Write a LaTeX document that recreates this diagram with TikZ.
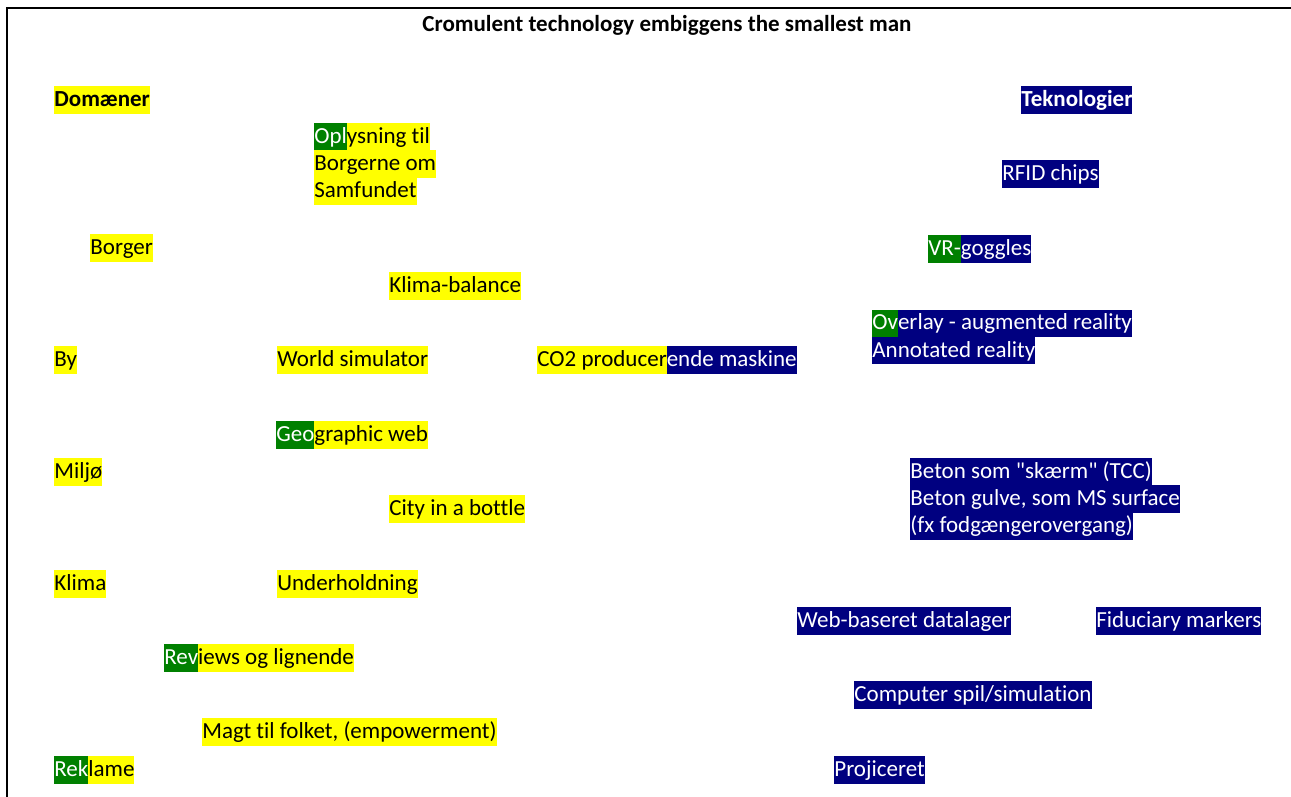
\documentclass[tikz,border=0pt]{standalone}
\usepackage{fontspec}
\setmainfont{Carlito}[Ligatures={TeXOff,NoCommon}]
\usetikzlibrary{positioning}
\definecolor{hl_yellow}{HTML}{FFFF00}
\definecolor{hl_green}{HTML}{008000}
\definecolor{hl_navy}{HTML}{000080}
\setlength{\fboxsep}{0pt}
\newcommand{\hlstrut}{\rule[-3.6pt]{0pt}{13.6pt}}
\newcommand{\yel}[1]{\colorbox{hl_yellow}{\hlstrut\color{black}#1}}
\newcommand{\grn}[1]{\colorbox{hl_green}{\hlstrut\color{white}#1}}
\newcommand{\nav}[1]{\colorbox{hl_navy}{\hlstrut\color{white}#1}}
\tikzset{
  item/.style={anchor=west, inner sep=0pt, align=left, font=\fontsize{11.5}{13.6}\selectfont},
  heading/.style={item, font=\fontsize{11.5}{13.6}\selectfont\bfseries},
  frame/.style={draw=black, line width=1pt},
}

\begin{document}
\begin{tikzpicture}[x=0.5pt, y=-0.5pt]

  \useasboundingbox (0,0) rectangle (1291,797);
  \draw[frame] (7,797) -- (7,8) -- (1291,8);

  \node[anchor=center, inner sep=0pt, font=\fontsize{11.5}{13.6}\selectfont\bfseries] (title) at (667,25)
    {Cromulent technology embiggens the smallest man};

  % --- domaener (left) -----------------------------------------------------
  \node[heading] (domaener) at (54,100) {\yel{Domæner}};
  \node[item] (oplysning) at (314,164) {\grn{Opl}\yel{ysning til}\\\yel{Borgerne om}\\\yel{Samfundet}};
  \node[item] (borger) at (90,248) {\yel{Borger}};
  \node[item] (klimabal) at (389,286) {\yel{Klima-balance}};
  \node[item] (by) at (54,360) {\yel{By}};
  \node[item] (worldsim) at (277,360) {\yel{World simulator}};
  \node[item] (co2) at (537,360) {\yel{CO2 producer}\nav{ende maskine}};
  \node[item] (geoweb) at (276,435) {\grn{Geo}\yel{graphic web}};
  \node[item] (miljo) at (54,472) {\yel{Miljø}};
  \node[item] (bottle) at (389,509) {\yel{City in a bottle}};
  \node[item] (klima) at (54,584) {\yel{Klima}};
  \node[item] (underh) at (277,584) {\yel{Underholdning}};
  \node[item] (reviews) at (164,658) {\grn{Rev}\yel{iews og lignende}};
  \node[item] (magt) at (202,732) {\yel{Magt til folket, (empowerment)}};
  \node[item] (reklame) at (54,770) {\grn{Rek}\yel{lame}};

  % --- teknologier (right) -------------------------------------------------
  \node[heading] (teknologier) at (1021,100) {\nav{Teknologier}};
  \node[item] (rfid) at (1002,174) {\nav{RFID chips}};
  \node[item] (vr) at (928,249) {\grn{VR-}\nav{goggles}};
  \node[item] (overlay) at (872,337) {\grn{Ov}\nav{erlay - augmented reality}\\\nav{Annotated reality}};
  \node[item] (beton) at (910,499) {\nav{Beton som "skærm" (TCC)}\\\nav{Beton gulve, som MS surface}\\\nav{(fx fodgængerovergang)}};
  \node[item] (weblager) at (797,621) {\nav{Web-baseret datalager}};
  \node[item] (fiducial) at (1096,621) {\nav{Fiduciary markers}};
  \node[item] (compspil) at (854,695) {\nav{Computer spil/simulation}};
  \node[item] (projic) at (834,770) {\nav{Projiceret}};

\end{tikzpicture}
\end{document}
